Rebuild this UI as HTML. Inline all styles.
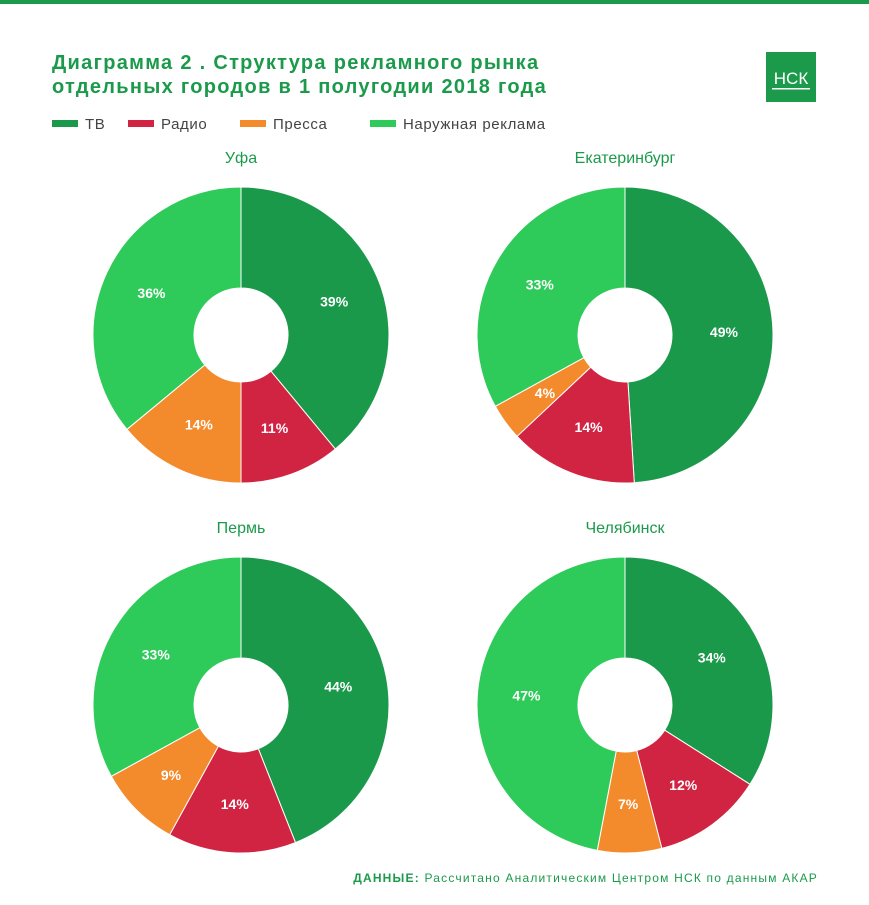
<!DOCTYPE html>
<html><head><meta charset="utf-8"><style>
body{margin:0;width:869px;height:900px;background:#fff;overflow:hidden;font-family:"Liberation Sans",sans-serif}
</style></head><body>
<svg width="869" height="900" xmlns="http://www.w3.org/2000/svg" id="chart">
<rect x="0" y="0" width="869" height="4" fill="#1b9a4b"/>
<g fill="#1b9a4b" font-weight="bold" font-size="20" letter-spacing="1.3">
<text x="52" y="69">Диаграмма 2 . Структура рекламного рынка</text>
<text x="52" y="93">отдельных городов в 1 полугодии 2018 года</text>
</g>
<g>
<rect x="766" y="52" width="50" height="50" fill="#1b9a4b"/>
<text x="791" y="84" fill="#fff" font-size="17" text-anchor="middle">НСК</text>
<rect x="772" y="88" width="38" height="1.5" fill="#fff"/>
</g>
<g id="legend" font-size="15" fill="#444" letter-spacing="0.6"></g>
<g id="pies"></g>
<text x="818" y="882" text-anchor="end" font-size="12" fill="#1b9a4b" letter-spacing="1.2"><tspan font-weight="bold">ДАННЫЕ:</tspan> Рассчитано Аналитическим Центром НСК по данным АКАР</text>
</svg>
<script>
const categories = ["ТВ","Радио","Пресса","Наружная реклама"];
const cities = ["Уфа","Екатеринбург","Пермь","Челябинск"];
const ufa = [39,11,14,36];
const ekb = [49,14,4,33];
const perm = [44,14,9,33];
const chel = [34,12,7,47];
const colors = ["#1b994b","#d12443","#f38b2c","#2ecb5a"];
const NS="http://www.w3.org/2000/svg";
const svg=document.getElementById('chart');
const leg=document.getElementById('legend');
const legX=[52,128,240,370];
categories.forEach((c,i)=>{
  const r=document.createElementNS(NS,'rect');
  r.setAttribute('x',legX[i]);r.setAttribute('y',120);r.setAttribute('width',26);r.setAttribute('height',7);r.setAttribute('fill',colors[i]);
  
  
  leg.appendChild(r);
  const t=document.createElementNS(NS,'text');
  t.setAttribute('x',legX[i]+33);t.setAttribute('y',129);t.textContent=c;
  
  
  leg.appendChild(t);
});
const all=[ufa,ekb,perm,chel];
const centers=[[241,335],[625,335],[241,705],[625,705]];
const R=148, r0=47;
const pies=document.getElementById('pies');
function pt(cx,cy,rad,a){return [cx+rad*Math.sin(a),cy-rad*Math.cos(a)];}
all.forEach((vals,k)=>{
  const [cx,cy]=centers[k];
  const g=document.createElementNS(NS,'g');
  
  
  pies.appendChild(g);
  const tt=document.createElementNS(NS,'text');
  tt.setAttribute('x',cx);tt.setAttribute('y',cy-172);tt.setAttribute('text-anchor','middle');
  tt.setAttribute('font-size','16');tt.setAttribute('fill','#1b9a4b');tt.textContent=cities[k];
  
  
  g.appendChild(tt);
  const tot=vals.reduce((a,b)=>a+b,0);
  let a0=0;
  vals.forEach((v,i)=>{
    const a1=a0+v/tot*2*Math.PI;
    const p1=pt(cx,cy,R,a0),p2=pt(cx,cy,R,a1),p3=pt(cx,cy,r0,a1),p4=pt(cx,cy,r0,a0);
    const lg=(a1-a0)>Math.PI?1:0;
    const p=document.createElementNS(NS,'path');
    p.setAttribute('d',`M${p1}A${R},${R} 0 ${lg} 1 ${p2}L${p3}A${r0},${r0} 0 ${lg} 0 ${p4}Z`);
    p.setAttribute('fill',colors[i]);p.setAttribute('stroke','#fff');p.setAttribute('stroke-width','1');
    
    
    g.appendChild(p);
    const m=(a0+a1)/2, lp=pt(cx,cy,99,m);
    const t=document.createElementNS(NS,'text');
    t.setAttribute('x',lp[0]);t.setAttribute('y',lp[1]+5);t.setAttribute('text-anchor','middle');
    t.setAttribute('font-size','14');t.setAttribute('font-weight','bold');t.setAttribute('fill','#fff');
    t.textContent=v+'%';
    
    
    g.appendChild(t);
    a0=a1;
  });
});
</script>
</body></html>
